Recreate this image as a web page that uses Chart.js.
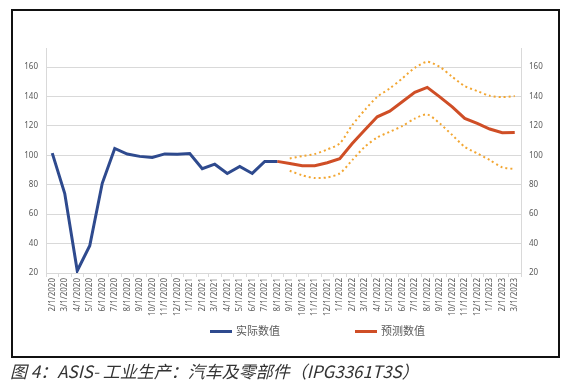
<!DOCTYPE html>
<html>
<head>
<meta charset="utf-8">
<script src="https://cdn.jsdelivr.net/npm/chart.js@4/dist/chart.umd.min.js"></script>
<style>
  html, body { margin: 0; padding: 0; background: #fff; width: 570px; height: 390px; overflow: hidden; }
  #wrap { position: absolute; left: 0; top: 0; width: 570px; height: 356px; }
  #frame { position: absolute; left: 11px; top: 9px; width: 545px; height: 345px; border: 2px solid #111; pointer-events: none; }
  #caption { position: absolute; left: 10px; top: 361px; font-family: "Noto Sans CJK SC", "Noto Sans", sans-serif; font-style: italic; font-size: 17px; line-height: 20px; color: #333; white-space: nowrap; }
  .lg { position: absolute; top: 321px; height: 18px; font-family: "Noto Sans CJK SC", sans-serif; font-size: 11px; line-height: 18px; color: #595959; white-space: nowrap; }
  .lg i { display: inline-block; width: 22px; height: 3px; vertical-align: middle; margin-right: 4px; position: relative; top: -1px; }
</style>
</head>
<body>
<div id="wrap"><canvas id="c" width="570" height="356"></canvas></div>
<div id="frame"></div>
<div id="legend"></div>
<div id="caption">图 4：ASIS- 工业生产：汽车及零部件（IPG3361T3S）</div>
<script>
const categories = [
  "2/1/2020","3/1/2020","4/1/2020","5/1/2020","6/1/2020","7/1/2020","8/1/2020","9/1/2020","10/1/2020","11/1/2020","12/1/2020",
  "1/1/2021","2/1/2021","3/1/2021","4/1/2021","5/1/2021","6/1/2021","7/1/2021","8/1/2021","9/1/2021","10/1/2021","11/1/2021","12/1/2021",
  "1/1/2022","2/1/2022","3/1/2022","4/1/2022","5/1/2022","6/1/2022","7/1/2022","8/1/2022","9/1/2022","10/1/2022","11/1/2022","12/1/2022",
  "1/1/2023","2/1/2023","3/1/2023"
];
// 实际数值: 2/1/2020 .. 8/1/2021
const actualValues = [101.5, 74, 21.5, 38.5, 81, 104.7, 100.9, 99.3, 98.6, 101, 100.7, 101.2, 90.9, 94, 87.7, 92.5, 87.7, 95.9, 95.9];
// 预测数值: 8/1/2021 .. 3/1/2023
const forecastValues = [95.9, 94.5, 92.9, 93, 95, 97.7, 108.1, 117.2, 126.2, 130.1, 136.4, 142.8, 146.2, 139.8, 133, 125.1, 121.7, 117.9, 115.4, 115.5];
// bounds: 9/1/2021 .. 3/1/2023
const upperBound = [97.9, 99.5, 100.9, 104, 108.1, 120.6, 130.8, 139.8, 145.5, 152.3, 159.5, 163.6, 160.2, 153.4, 147.1, 143.7, 140.5, 139.6, 140.3];
const lowerBound = [89.5, 86.4, 84.6, 85, 87.7, 96.8, 105.8, 112.2, 116, 119.9, 125, 127.8, 121.7, 113.8, 105.8, 101.3, 96.8, 91.8, 90.7];
const yTickValues = [20, 40, 60, 80, 100, 120, 140, 160];
const seriesNames = ["实际数值", "预测数值"];
const seriesColors = ["#2E4A8E", "#CF4E26"];
const boundColor = "#F2A632";

function placeAt(values, startIndex) {
  const out = new Array(categories.length).fill(null);
  values.forEach((v, i) => { out[startIndex + i] = v; });
  return out;
}
const forecastStart = categories.indexOf("8/1/2021");
const boundStart = categories.indexOf("9/1/2021");

const gridColor = "#d9d9d9";
const textColor = "#595959";
const tickFont = { family: "'Noto Sans', 'DejaVu Sans', sans-serif", size: 8 };

// HTML legend (real text)
const legendLeft = [210, 355];
const legendEl = document.getElementById("legend");
seriesNames.forEach((name, i) => {
  const d = document.createElement("div");
  d.className = "lg";
  d.style.left = legendLeft[i] + "px";
  const sw = document.createElement("i");
  sw.style.background = seriesColors[i];
  d.appendChild(sw);
  d.appendChild(document.createTextNode(name));
  legendEl.appendChild(d);
});

new Chart(document.getElementById("c"), {
  type: "line",
  data: {
    labels: categories,
    datasets: [
      { label: seriesNames[0], data: placeAt(actualValues, 0), borderColor: seriesColors[0], backgroundColor: seriesColors[0], borderWidth: 3, pointRadius: 0, tension: 0, yAxisID: "y" },
      { label: seriesNames[1], data: placeAt(forecastValues, forecastStart), borderColor: seriesColors[1], backgroundColor: seriesColors[1], borderWidth: 3, pointRadius: 0, tension: 0, yAxisID: "y" },
      { label: "upper", data: placeAt(upperBound, boundStart), borderColor: boundColor, borderWidth: 2, borderDash: [2, 3], pointRadius: 0, tension: 0.25, yAxisID: "y" },
      { label: "lower", data: placeAt(lowerBound, boundStart), borderColor: boundColor, borderWidth: 2, borderDash: [2, 3], pointRadius: 0, tension: 0.25, yAxisID: "y" }
    ]
  },
  options: {
    responsive: false,
    animation: false,
    spanGaps: false,
    layout: { padding: { left: 0, right: 0, top: 48, bottom: 37 } },
    plugins: {
      tooltip: { enabled: false },
      legend: { display: false }
    },
    scales: {
      x: {
        offset: true,
        grid: { display: true, drawOnChartArea: false, drawTicks: true, tickLength: 4, color: gridColor, offset: true },
        border: { display: true, color: gridColor },
        ticks: { autoSkip: false, maxRotation: 90, minRotation: 90, padding: 1, color: textColor, font: tickFont },
        afterFit(scale) { scale.height = 46; }
      },
      y: {
        position: "left", min: 20, max: 173,
        afterBuildTicks(scale) { scale.ticks = yTickValues.map(v => ({ value: v })); },
        grid: { color: gridColor, lineWidth: 1, drawTicks: false },
        border: { display: true, color: gridColor },
        ticks: { padding: 8, color: textColor, font: tickFont },
        afterFit(scale) { scale.width = 46; }
      },
      y1: {
        position: "right", min: 20, max: 173,
        afterBuildTicks(scale) { scale.ticks = yTickValues.map(v => ({ value: v })); },
        grid: { drawOnChartArea: false, drawTicks: false },
        border: { display: true, color: gridColor },
        ticks: { padding: 8, color: textColor, font: tickFont },
        afterFit(scale) { scale.width = 49; }
      }
    }
  }
});
</script>
</body>
</html>
